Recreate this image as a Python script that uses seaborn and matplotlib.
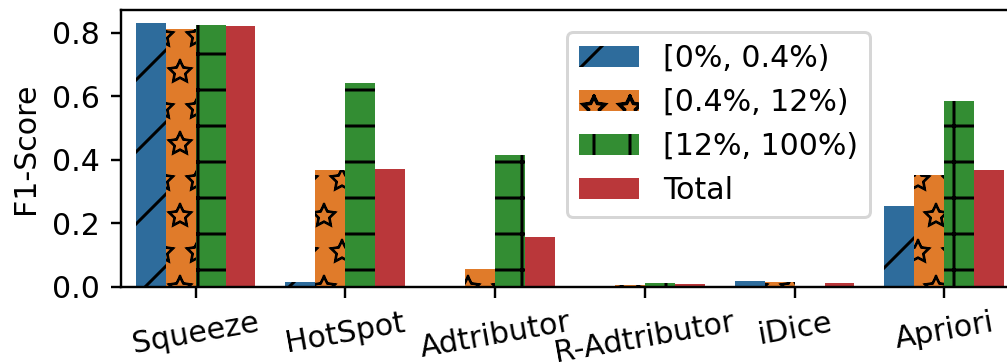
import numpy as np
import pandas as pd
import matplotlib
matplotlib.use("Agg")
import matplotlib.pyplot as plt
import matplotlib.hatch as mhatch
import seaborn as sns

# hollow (outlined) star hatch, as in the reference
mhatch.Stars.filled = False

methods = ["Squeeze", "HotSpot", "Adtributor", "R-Adtributor", "iDice", "Apriori"]
buckets = ["[0%, 0.4%)", "[0.4%, 12%)", "[12%, 100%)", "Total"]
f1_low = [0.830, 0.015, 0.000, 0.002, 0.019, 0.256]
f1_mid = [0.813, 0.368, 0.056, 0.005, 0.017, 0.353]
f1_high = [0.824, 0.643, 0.416, 0.012, 0.000, 0.584]
f1_total = [0.820, 0.372, 0.157, 0.008, 0.012, 0.369]
colors = ["#2e6c9c", "#e07b2a", "#338d33", "#ba373a"]
hatches = ["/", "*", "+", ""]

series = [f1_low, f1_mid, f1_high, f1_total]
rows = []
for b, vals in zip(buckets, series):
    for m, v in zip(methods, vals):
        rows.append({"method": m, "bucket": b, "f1": v})
df = pd.DataFrame(rows)

plt.rcParams["font.family"] = ["DejaVu Sans"]
plt.rcParams["font.size"] = 10
plt.rcParams["hatch.linewidth"] = 1.0

dpi = 216
fig = plt.figure(figsize=(1007 / dpi, 362 / dpi), dpi=dpi)
ax = fig.add_axes([120.7 / 1007, 75 / 362, 898.5 / 1007, 277 / 362])

sns.barplot(data=df, x="method", y="f1", hue="bucket", order=methods,
            hue_order=buckets, palette=colors, saturation=1, legend=False,
            linewidth=0, ax=ax)

for cont, h in zip(ax.containers, hatches):
    for p in cont.patches:
        p.set_hatch(h)
        if h == "*" and hasattr(p, "set_hatch_linewidth"):
            p.set_hatch_linewidth(0.7)

ax.set_xlabel("")
ax.set_ylabel("F1-Score", fontsize=10)
ax.set_yticks([0.0, 0.2, 0.4, 0.6, 0.8])
ax.set_yticklabels(["0.0", "0.2", "0.4", "0.6", "0.8"])
ax.tick_params(axis="both", labelsize=10)
for lab in ax.get_xticklabels():
    lab.set_rotation(10)
    lab.set_ha("center")

ax.legend(handles=list(ax.containers), labels=buckets, loc="upper left",
          bbox_to_anchor=(567 / 1007, 1 - 32 / 362), borderaxespad=0,
          bbox_transform=fig.transFigure, fontsize=10)

fig.savefig("out.png", dpi=dpi)
